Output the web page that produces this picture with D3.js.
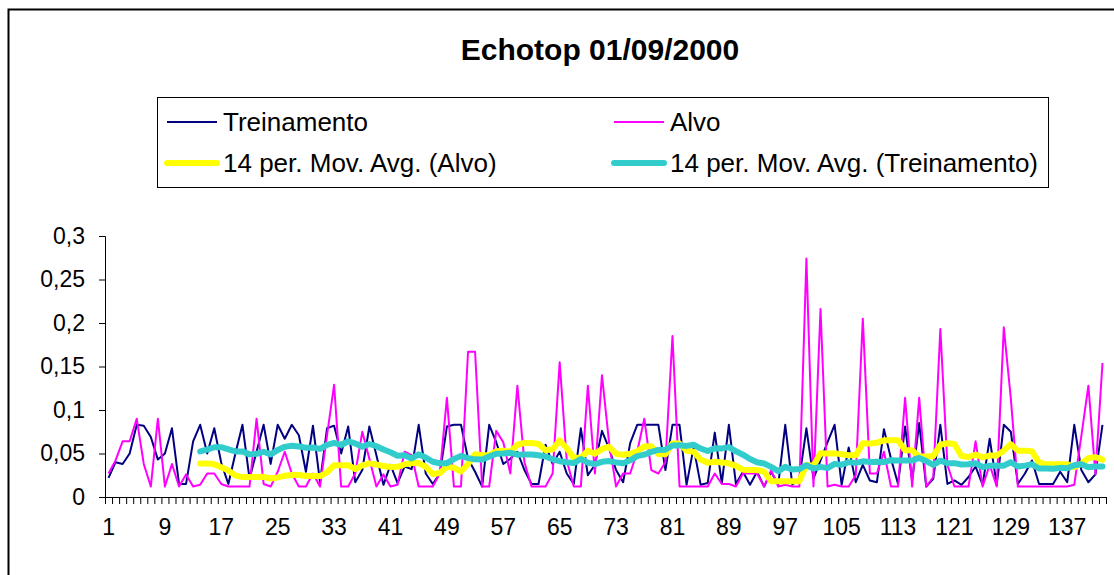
<!DOCTYPE html>
<html>
<head>
<meta charset="utf-8">
<script src="https://cdn.jsdelivr.net/npm/d3@7"></script>
<style>
  html, body { margin: 0; padding: 0; background: #fff; }
  svg { display: block; font-family: "Liberation Sans", Arial, sans-serif; }
</style>
</head>
<body>
<svg id="chart" width="1114" height="575"></svg>
<script>
const title = "Echotop 01/09/2000";
const seriesNames = ["Treinamento", "Alvo", "14 per. Mov. Avg. (Alvo)", "14 per. Mov. Avg. (Treinamento)"];
const maPeriod = 14;

const treinamento = [
  0.022,0.040,0.038,0.050,0.083,0.082,0.069,0.043,0.050,0.079,
  0.015,0.015,0.064,0.083,0.050,0.079,0.039,0.015,0.050,0.083,
  0.021,0.052,0.083,0.038,0.083,0.067,0.083,0.071,0.029,0.082,
  0.017,0.079,0.082,0.050,0.081,0.017,0.031,0.081,0.048,0.014,
  0.037,0.016,0.035,0.032,0.083,0.027,0.015,0.027,0.081,0.083,
  0.083,0.044,0.029,0.012,0.083,0.063,0.038,0.044,0.052,0.031,
  0.015,0.015,0.060,0.038,0.052,0.027,0.015,0.079,0.025,0.037,
  0.076,0.056,0.031,0.017,0.062,0.083,0.083,0.083,0.083,0.031,
  0.083,0.083,0.014,0.057,0.014,0.016,0.074,0.016,0.083,0.015,
  0.029,0.014,0.029,0.012,0.029,0.014,0.083,0.014,0.021,0.079,
  0.021,0.042,0.063,0.083,0.014,0.057,0.017,0.037,0.019,0.017,
  0.078,0.044,0.015,0.081,0.019,0.085,0.012,0.021,0.083,0.015,
  0.019,0.014,0.023,0.035,0.014,0.067,0.014,0.083,0.075,0.015,
  0.027,0.042,0.015,0.015,0.015,0.029,0.017,0.083,0.031,0.017,
  0.026,0.083
];

const alvo = [
  0.027,0.042,0.064,0.064,0.090,0.038,0.012,0.090,0.012,0.038,
  0.012,0.026,0.012,0.014,0.027,0.027,0.015,0.012,0.012,0.012,
  0.012,0.090,0.015,0.012,0.029,0.052,0.027,0.012,0.012,0.027,
  0.012,0.071,0.129,0.012,0.012,0.027,0.075,0.044,0.012,0.026,
  0.012,0.014,0.052,0.048,0.012,0.012,0.012,0.027,0.114,0.012,
  0.012,0.167,0.167,0.012,0.012,0.076,0.063,0.027,0.128,0.040,
  0.012,0.012,0.012,0.027,0.155,0.042,0.012,0.012,0.128,0.027,
  0.140,0.063,0.012,0.027,0.027,0.052,0.090,0.031,0.027,0.040,
  0.185,0.012,0.012,0.012,0.012,0.012,0.027,0.015,0.015,0.012,
  0.027,0.027,0.027,0.012,0.031,0.012,0.014,0.012,0.012,0.274,
  0.012,0.216,0.012,0.014,0.012,0.012,0.025,0.205,0.027,0.027,
  0.052,0.012,0.012,0.114,0.012,0.114,0.012,0.023,0.193,0.037,
  0.012,0.012,0.012,0.064,0.012,0.037,0.012,0.195,0.113,0.012,
  0.012,0.012,0.012,0.012,0.012,0.012,0.012,0.014,0.070,0.128,
  0.026,0.154
];

const categories = d3.range(1, treinamento.length + 1);
const yTicks = [0, 0.05, 0.1, 0.15, 0.2, 0.25, 0.3];
const yTickLabels = ["0", "0,05", "0,1", "0,15", "0,2", "0,25", "0,3"];
const xLabelEvery = 8;

// Excel-style moving average trendline (derived from the data)
function movingAverage(vals, n) {
  return vals.map((v, i) => i < n - 1 ? null : d3.mean(vals.slice(i - n + 1, i + 1)));
}
const maAlvo = movingAverage(alvo, maPeriod);
const maTrein = movingAverage(treinamento, maPeriod);

const svg = d3.select("#chart");
const W = 1114, H = 575;
const plot = { left: 105, right: 1106, top: 236, bottom: 497 };

// outer frame
svg.append("rect").attr("x", 8.5).attr("y", 9.5).attr("width", W + 20).attr("height", H + 20)
  .attr("fill", "#fff").attr("stroke", "#000").attr("stroke-width", 2);

// title
svg.append("text").attr("x", 600).attr("y", 60).attr("text-anchor", "middle")
  .attr("font-size", 30).attr("font-weight", "bold").attr("fill", "#000").text(title);

const x = d3.scaleBand().domain(categories).range([plot.left, plot.right]).padding(0);
const xb = d3.scaleLinear().domain([0, categories.length]).range([plot.left, plot.right]);
const y = d3.scaleLinear().domain([0, 0.3]).range([plot.bottom, plot.top]);

// y axis
const yAxis = svg.append("g").attr("transform", `translate(${plot.left},0)`)
  .call(d3.axisLeft(y).tickValues(yTicks).tickSize(6).tickPadding(14)
    .tickFormat((d, i) => yTickLabels[i]));
yAxis.selectAll("text").attr("font-size", 23).attr("fill", "#000");
yAxis.selectAll("line, path").attr("stroke", "#000");

// x axis boundary ticks
const xTickAxis = svg.append("g").attr("transform", `translate(0,${plot.bottom})`)
  .call(d3.axisBottom(xb).tickValues(d3.range(0, categories.length + 1)).tickSize(7).tickFormat(""));
xTickAxis.selectAll("line, path").attr("stroke", "#000");
xTickAxis.select("path").attr("d", `M${plot.left},0.5H${plot.right}`);

// x labels
const xLab = svg.append("g").attr("transform", `translate(0,${plot.bottom})`)
  .call(d3.axisBottom(x).tickValues(categories.filter(c => (c - 1) % xLabelEvery === 0))
    .tickSize(0).tickPadding(22));
xLab.select("path").remove();
xLab.selectAll("text").attr("font-size", 23).attr("fill", "#000");

const cx = c => x(c) + x.bandwidth() / 2;
const line = d3.line().defined(d => d.v != null).x(d => cx(d.c)).y(d => y(d.v));
const toPts = vals => vals.map((v, i) => ({ c: categories[i], v }));

const g = svg.append("g").attr("fill", "none").attr("stroke-linejoin", "round");
g.append("path").datum(toPts(treinamento)).attr("d", line).attr("stroke", "#000080").attr("stroke-width", 2);
g.append("path").datum(toPts(alvo)).attr("d", line).attr("stroke", "#FF00FF").attr("stroke-width", 2);
g.append("path").datum(toPts(maAlvo)).attr("d", line).attr("stroke", "#FFFF00").attr("stroke-width", 6).attr("stroke-linecap", "round");
g.append("path").datum(toPts(maTrein)).attr("d", line).attr("stroke", "#33CCCC").attr("stroke-width", 6).attr("stroke-linecap", "round");

// legend
const lg = svg.append("g");
lg.append("rect").attr("x", 157.5).attr("y", 97.5).attr("width", 891).attr("height", 90)
  .attr("fill", "#fff").attr("stroke", "#000").attr("stroke-width", 1);
const legendItems = [
  { name: seriesNames[0], color: "#000080", w: 2, x: 167, y: 122 },
  { name: seriesNames[1], color: "#FF00FF", w: 2, x: 614, y: 122 },
  { name: seriesNames[2], color: "#FFFF00", w: 6, x: 167, y: 163 },
  { name: seriesNames[3], color: "#33CCCC", w: 6, x: 614, y: 163 }
];
legendItems.forEach(it => {
  lg.append("line").attr("x1", it.x).attr("x2", it.x + 50).attr("y1", it.y).attr("y2", it.y)
    .attr("stroke", it.color).attr("stroke-width", it.w).attr("stroke-linecap", it.w > 2 ? "round" : "butt");
  lg.append("text").attr("x", it.x + 56).attr("y", it.y).attr("dy", "0.35em")
    .attr("font-size", 26).attr("fill", "#000").text(it.name);
});
</script>
</body>
</html>
